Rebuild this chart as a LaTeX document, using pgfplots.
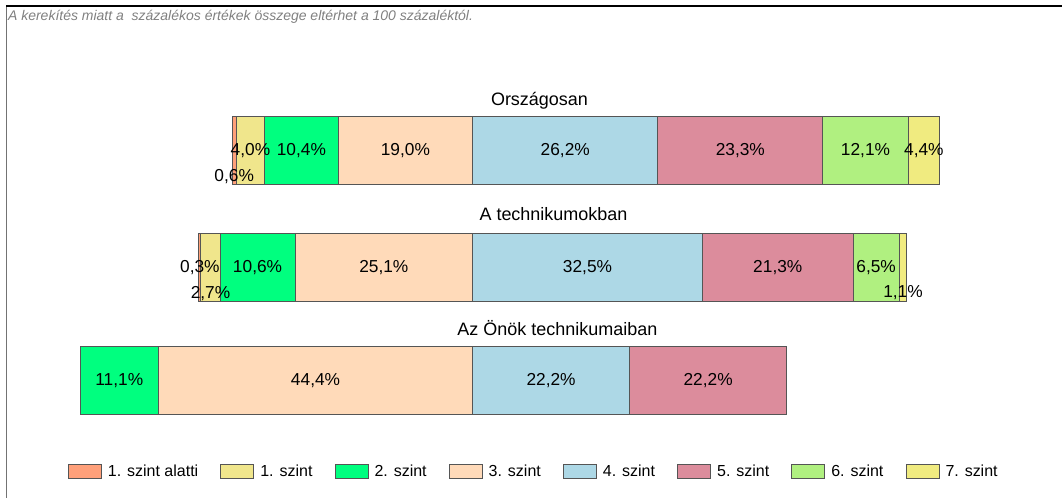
\documentclass[border=0pt]{standalone}
\usepackage{fontspec}
\setmainfont{Liberation Sans}
\usepackage{pgfplots}
\usepackage{pgfplotstable}
\pgfplotsset{compat=1.18}
\definecolor{c0}{HTML}{FFA07A}
\definecolor{c1}{HTML}{F0E68C}
\definecolor{c2}{HTML}{00FF7F}
\definecolor{c3}{HTML}{FFDAB9}
\definecolor{c4}{HTML}{ADD8E6}
\definecolor{c5}{HTML}{DC8C9C}
\definecolor{c6}{HTML}{B0F080}
\definecolor{c7}{HTML}{F0EB80}
\definecolor{bord}{HTML}{555555}

% The bars are centred on the 3./4. szint boundary, which sits at x = 66.81.
% y = vertical position of the bar (pixel rows), v = percentage, dy = label shift
\pgfplotstableread{
y v dy
151 32.81 0
268 28.11 0
381 11.31 0
}\offs
\pgfplotstableread{
y v dy
151 0.6 -19
268 0.3 0
381 0 0
}\tA
\pgfplotstableread{
y v dy
151 4.0 0
268 2.7 -19
381 0 0
}\tB
\pgfplotstableread{
y v dy
151 10.4 0
268 10.6 0
381 11.1 0
}\tC
\pgfplotstableread{
y v dy
151 19.0 0
268 25.1 0
381 44.4 0
}\tD
\pgfplotstableread{
y v dy
151 26.2 0
268 32.5 0
381 22.2 0
}\tE
\pgfplotstableread{
y v dy
151 23.3 0
268 21.3 0
381 22.2 0
}\tF
\pgfplotstableread{
y v dy
151 12.1 0
268 6.5 0
381 0 0
}\tG
\pgfplotstableread{
y v dy
151 4.4 0
268 1.1 -19
381 0 0
}\tH

\pgfplotsset{
  seg/.style={
    fill=#1, draw=bord, line width=0.75pt,
    point meta=explicit,
    visualization depends on={\thisrow{dy} \as \dy},
    nodes near coords={\pgfmathfloatifflags{\pgfplotspointmeta}{0}{}{\pgfmathprintnumber{\pgfplotspointmeta}\%}},
    every node near coord/.append style={yshift=\dy pt, text=black, font=\fontsize{13}{15}\selectfont},
  },
  legseg/.style={fill=#1, draw=bord, line width=0.75pt},
}

\begin{document}
\begin{tikzpicture}
\begin{axis}[
  scale only axis,
  width=797.25pt, height=373.5pt,
  xmin=0, xmax=150.14,
  ymin=0, ymax=498, y dir=reverse,
  axis lines=none,
  xbar stacked, bar width=51pt,
  clip=false,
  /pgf/number format/fixed,
  /pgf/number format/fixed zerofill,
  /pgf/number format/precision=1,
  /pgf/number format/use comma,
  /pgf/number format/assume math mode=true,
  legend columns=8,
  legend image code/.code={\draw[#1] (0pt,-5.5pt) rectangle (24.75pt,5.5pt);},
  legend style={draw=none, fill=none, at={(0.060,0.052)}, anchor=west,
    font=\fontsize{12}{14}\selectfont,
    /tikz/every odd column/.append style={column sep=2.5pt},
    /tikz/every even column/.append style={column sep=14.6pt}},
]
\path (axis cs:0,0) rectangle (axis cs:150.14,498);
\addlegendimage{legseg=c0}
\addlegendimage{legseg=c1}
\addlegendimage{legseg=c2}
\addlegendimage{legseg=c3}
\addlegendimage{legseg=c4}
\addlegendimage{legseg=c5}
\addlegendimage{legseg=c6}
\addlegendimage{legseg=c7}
\addplot[draw=none, fill=none] table[x=v,y=y]{\offs};
\addplot[seg=c0] table[x=v,y=y,meta=v]{\tA};
\addplot[seg=c1] table[x=v,y=y,meta=v]{\tB};
\addplot[seg=c2] table[x=v,y=y,meta=v]{\tC};
\addplot[seg=c3] table[x=v,y=y,meta=v]{\tD};
\addplot[seg=c4] table[x=v,y=y,meta=v]{\tE};
\addplot[seg=c5] table[x=v,y=y,meta=v]{\tF};
\addplot[seg=c6] table[x=v,y=y,meta=v]{\tG};
\addplot[seg=c7] table[x=v,y=y,meta=v]{\tH};
\legend{1. szint alatti, 1. szint, 2. szint, 3. szint, 4. szint, 5. szint, 6. szint, 7. szint}

\node[font=\fontsize{13.5}{15}\selectfont] at (axis cs:76.27,101) {Országosan};
\node[font=\fontsize{13.5}{15}\selectfont] at (axis cs:78.25,214) {A technikumokban};
\node[font=\fontsize{13.5}{15}\selectfont] at (axis cs:78.81,328) {Az Önök technikumaiban};
\node[anchor=west, inner sep=0pt, text=black!50, font=\fontsize{10.5}{12}\selectfont\itshape] at (axis cs:1.11,17) {A kerekítés miatt a \ százalékos értékek összege eltérhet a 100 százaléktól.};
\draw[black, line width=1.5pt] (axis cs:0.85,6) -- (axis cs:150.14,6);
\draw[black!55, line width=0.75pt] (axis cs:0.85,6) -- (axis cs:0.85,498);
\end{axis}
\end{tikzpicture}
\end{document}
